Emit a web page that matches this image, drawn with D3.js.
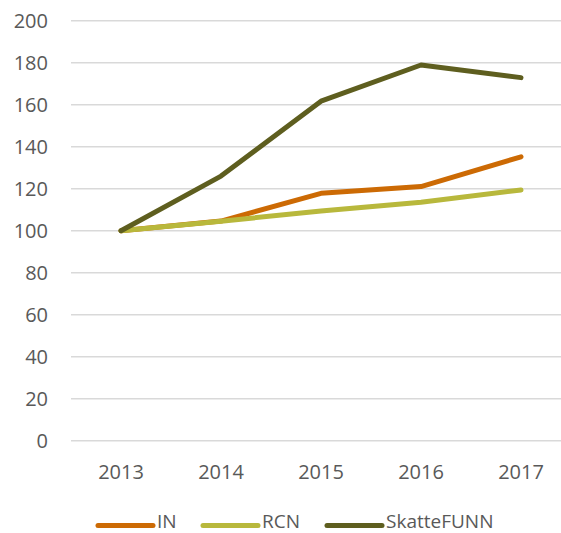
<!DOCTYPE html>
<html>
<head>
<meta charset="utf-8">
<script src="https://cdn.jsdelivr.net/npm/d3@7"></script>
<style>
  body { margin: 0; background: #fff; }
  svg text { font-family: "Open Sans", "Noto Sans", sans-serif; fill: #595959; }
</style>
</head>
<body>
<div id="chart"></div>
<script>
// data
var years = ["2013", "2014", "2015", "2016", "2017"];
var inValues = [100, 104.6, 117.8, 121, 135.2];
var rcnValues = [100, 104.5, 109.4, 113.5, 119.4];
var skatteValues = [100, 126, 161.7, 178.9, 172.9];
var yTicks = [0, 20, 40, 60, 80, 100, 120, 140, 160, 180, 200];

var series = [
    { name: "IN", values: inValues, color: "#CC6A04" },
    { name: "RCN", values: rcnValues, color: "#B8B83C" },
    { name: "SkatteFUNN", values: skatteValues, color: "#5E5E1F" }
];

var width = 561,
    height = 533;

var svg = d3.select("#chart").append("svg")
    .attr("width", width)
    .attr("height", height);

var x = d3.scaleBand()
    .domain(years)
    .range([71, 571]);

var y = d3.scaleLinear()
    .domain([0, 200])
    .range([440.7, 20.7]);

// gridlines
svg.append("g")
    .selectAll("line")
    .data(yTicks)
    .enter().append("line")
    .attr("x1", 71)
    .attr("x2", width)
    .attr("y1", function(d) { return y(d); })
    .attr("y2", function(d) { return y(d); })
    .attr("stroke", "#d9d9d9")
    .attr("stroke-width", 1.5);

// y axis labels
var yAxis = d3.axisLeft(y).tickValues(yTicks).tickSize(0).tickPadding(0);
var gy = svg.append("g")
    .attr("transform", "translate(48,0)")
    .call(yAxis);
gy.select(".domain").remove();
gy.selectAll("text")
    .attr("font-size", "20px")
    .attr("dy", "0.35em");

// x axis labels
var xAxis = d3.axisBottom(x).tickSize(0).tickPadding(0);
var gx = svg.append("g")
    .attr("transform", "translate(0,479)")
    .call(xAxis);
gx.select(".domain").remove();
gx.selectAll("text")
    .attr("font-size", "20px")
    .attr("dy", "0");

var line = d3.line()
    .x(function(d, i) { return x(years[i]) + x.bandwidth() / 2; })
    .y(function(d) { return y(d); });

svg.append("g")
    .selectAll("path")
    .data(series)
    .enter().append("path")
    .attr("d", function(d) { return line(d.values); })
    .attr("fill", "none")
    .attr("stroke", function(d) { return d.color; })
    .attr("stroke-width", 5)
    .attr("stroke-linecap", "round")
    .attr("stroke-linejoin", "round");

// legend
var legendX = [98, 203, 327];
var legend = svg.append("g")
    .selectAll("g")
    .data(series)
    .enter().append("g")
    .attr("transform", function(d, i) { return "translate(" + legendX[i] + ",525.5)"; });

legend.append("line")
    .attr("x1", 0)
    .attr("x2", 55)
    .attr("stroke", function(d) { return d.color; })
    .attr("stroke-width", 5)
    .attr("stroke-linecap", "round");

legend.append("text")
    .attr("x", 59)
    .attr("y", 2)
    .attr("font-size", "19px")
    .text(function(d) { return d.name; });
</script>
</body>
</html>
